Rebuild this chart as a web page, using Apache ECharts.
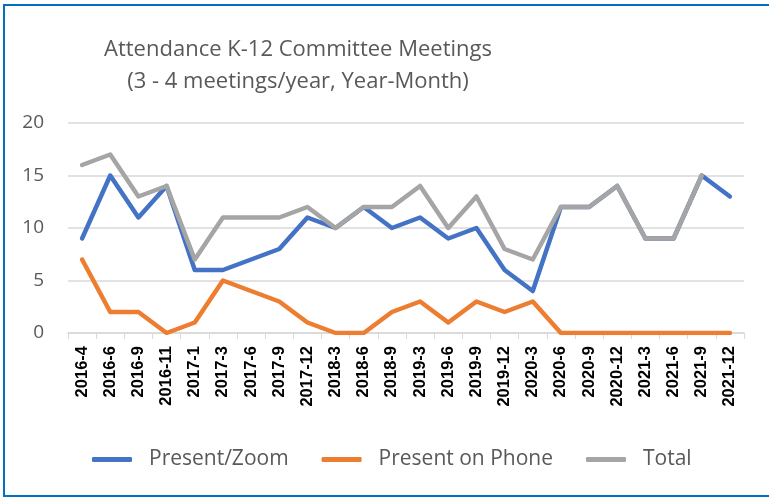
<!DOCTYPE html>
<html>
<head>
<meta charset="utf-8">
<script src="https://cdn.jsdelivr.net/npm/echarts@6/dist/echarts.min.js"></script>
<style>
html,body{margin:0;padding:0;background:#fff;}
#c{width:769px;height:498px;position:relative;}
#frame{position:absolute;left:3px;top:4px;width:770px;height:489px;border:2px solid #0070C0;box-sizing:content-box;pointer-events:none;}
</style>
</head>
<body>
<div id="c"></div>
<div id="frame"></div>
<script>
const categories = ["2016-4","2016-6","2016-9","2016-11","2017-1","2017-3","2017-6","2017-9","2017-12","2018-3","2018-6","2018-9","2019-3","2019-6","2019-9","2019-12","2020-3","2020-6","2020-9","2020-12","2021-3","2021-6","2021-9","2021-12"];
const presentZoom = [9,15,11,14,6,6,7,8,11,10,12,10,11,9,10,6,4,12,12,14,9,9,15,13];
const presentPhone = [7,2,2,0,1,5,4,3,1,0,0,2,3,1,3,2,3,0,0,0,0,0,0,0];
const total = [16,17,13,14,7,11,11,11,12,10,12,12,14,10,13,8,7,12,12,14,9,9,15,null];
const titleLines = ["Attendance K-12 Committee Meetings","(3 - 4 meetings/year, Year-Month)"];

const chart = echarts.init(document.getElementById('c'));
const font = '"Open Sans", "Noto Sans", sans-serif';
function line(name, data, color){
  return {name, type:'line', data, symbol:'none', smooth:false,
    lineStyle:{width:4.5, color, cap:'round', join:'round'}, itemStyle:{color}};
}
chart.setOption({
  animation:false,
  title:{text:titleLines.join('\n'), left:293, top:29, textAlign:'center',
    textStyle:{fontFamily:font, fontSize:22, fontWeight:'normal', color:'#595959', lineHeight:32}},
  legend:{bottom:23, left:87, itemWidth:40, itemHeight:5, itemGap:33, icon:'roundRect',
    textStyle:{fontFamily:font, fontSize:21, color:'#595959', padding:[0,0,0,12]},
    data:['Present/Zoom','Present on Phone','Total']},
  grid:{left:68, right:25, top:123, bottom:165},
  xAxis:{type:'category', data:categories, boundaryGap:true,
    axisLine:{lineStyle:{color:'#d9d9d9', width:1.5}},
    axisTick:{show:true, length:6, lineStyle:{color:'#d9d9d9'}},
    axisLabel:{rotate:90, interval:0, fontFamily:'"Liberation Sans", Arial, sans-serif', fontSize:16.5, fontWeight:'bold', color:'#000', margin:13}},
  yAxis:{type:'value', min:0, max:20, interval:5,
    axisLine:{show:false}, axisTick:{show:false},
    splitLine:{lineStyle:{color:'#d9d9d9', width:1.5}},
    axisLabel:{fontFamily:font, fontSize:19, color:'#595959', margin:24}},
  series:[
    line('Present/Zoom', presentZoom, '#4472C4'),
    line('Present on Phone', presentPhone, '#ED7D31'),
    line('Total', total, '#A5A5A5')
  ]
});
</script>
</body>
</html>
